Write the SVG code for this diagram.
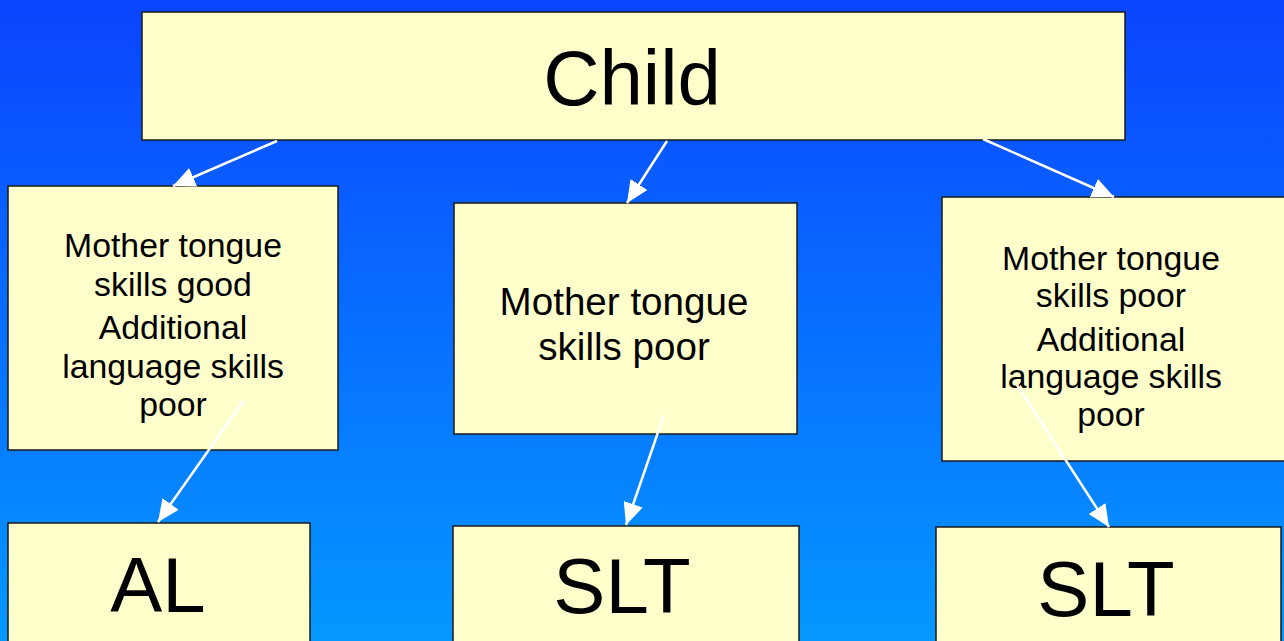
<svg xmlns="http://www.w3.org/2000/svg" width="1284" height="641" viewBox="0 0 1284 641">
  <defs>
    <linearGradient id="bg" x1="0" y1="0" x2="0" y2="1">
      <stop offset="0" stop-color="#0b44ff"/>
      <stop offset="1" stop-color="#0598ff"/>
    </linearGradient>
    <marker id="head" viewBox="0 0 22 20" refX="22" refY="10" markerWidth="22" markerHeight="20" markerUnits="userSpaceOnUse" orient="auto">
      <path d="M0,0 L22,10 L0,20 z" fill="#ffffff"/>
    </marker>
    <style>
      .box { fill: #ffffcc; stroke: #1a1a1a; stroke-width: 1.5; }
      .t { font-family: "Liberation Sans", Arial, sans-serif; fill: #000000; text-anchor: middle; }
      .big { font-size: 78px; }
      .mid { font-size: 33.8px; }
      .midL { font-size: 38.6px; }
      .conn { stroke: #ffffff; stroke-width: 2.5; fill: none; marker-end: url(#head); }
    </style>
  </defs>

  <rect x="0" y="0" width="1284" height="641" fill="url(#bg)"/>

  <g id="child">
    <rect class="box" x="142" y="12" width="983" height="128"/>
    <text class="t big" x="632" y="105">Child</text>
  </g>

  <g id="mt-good-al-poor">
    <rect class="box" x="8" y="186" width="330" height="264"/>
    <text class="t mid" x="173" y="257">Mother tongue</text>
    <text class="t mid" x="173" y="296">skills good</text>
    <text class="t mid" x="173" y="339">Additional</text>
    <text class="t mid" x="173" y="378">language skills</text>
    <text class="t mid" x="173" y="416">poor</text>
  </g>

  <g id="mt-poor">
    <rect class="box" x="454" y="203" width="343" height="231"/>
    <text class="t midL" x="624" y="315">Mother tongue</text>
    <text class="t midL" x="624" y="360">skills poor</text>
  </g>

  <g id="mt-poor-al-poor">
    <rect class="box" x="942" y="197" width="345" height="264"/>
    <text class="t mid" x="1111" y="270">Mother tongue</text>
    <text class="t mid" x="1111" y="307">skills poor</text>
    <text class="t mid" x="1111" y="351">Additional</text>
    <text class="t mid" x="1111" y="388">language skills</text>
    <text class="t mid" x="1111" y="426">poor</text>
  </g>

  <g id="al">
    <rect class="box" x="8" y="523" width="302" height="130"/>
    <text class="t big" x="158" y="612">AL</text>
  </g>

  <g id="slt-1">
    <rect class="box" x="453" y="526" width="346" height="130"/>
    <text class="t big" x="622" y="613">SLT</text>
  </g>

  <g id="slt-2">
    <rect class="box" x="936" y="527" width="345" height="130"/>
    <text class="t big" x="1106" y="616">SLT</text>
  </g>

  <g id="connectors">
    <line class="conn" x1="277" y1="141" x2="173" y2="186"/>
    <line class="conn" x1="667" y1="141" x2="627" y2="203"/>
    <line class="conn" x1="983" y1="139" x2="1114" y2="197"/>
    <line class="conn" x1="244" y1="400" x2="158" y2="522"/>
    <line class="conn" x1="664" y1="415" x2="626" y2="525"/>
    <line class="conn" x1="1017" y1="385" x2="1109" y2="527"/>
  </g>
</svg>
